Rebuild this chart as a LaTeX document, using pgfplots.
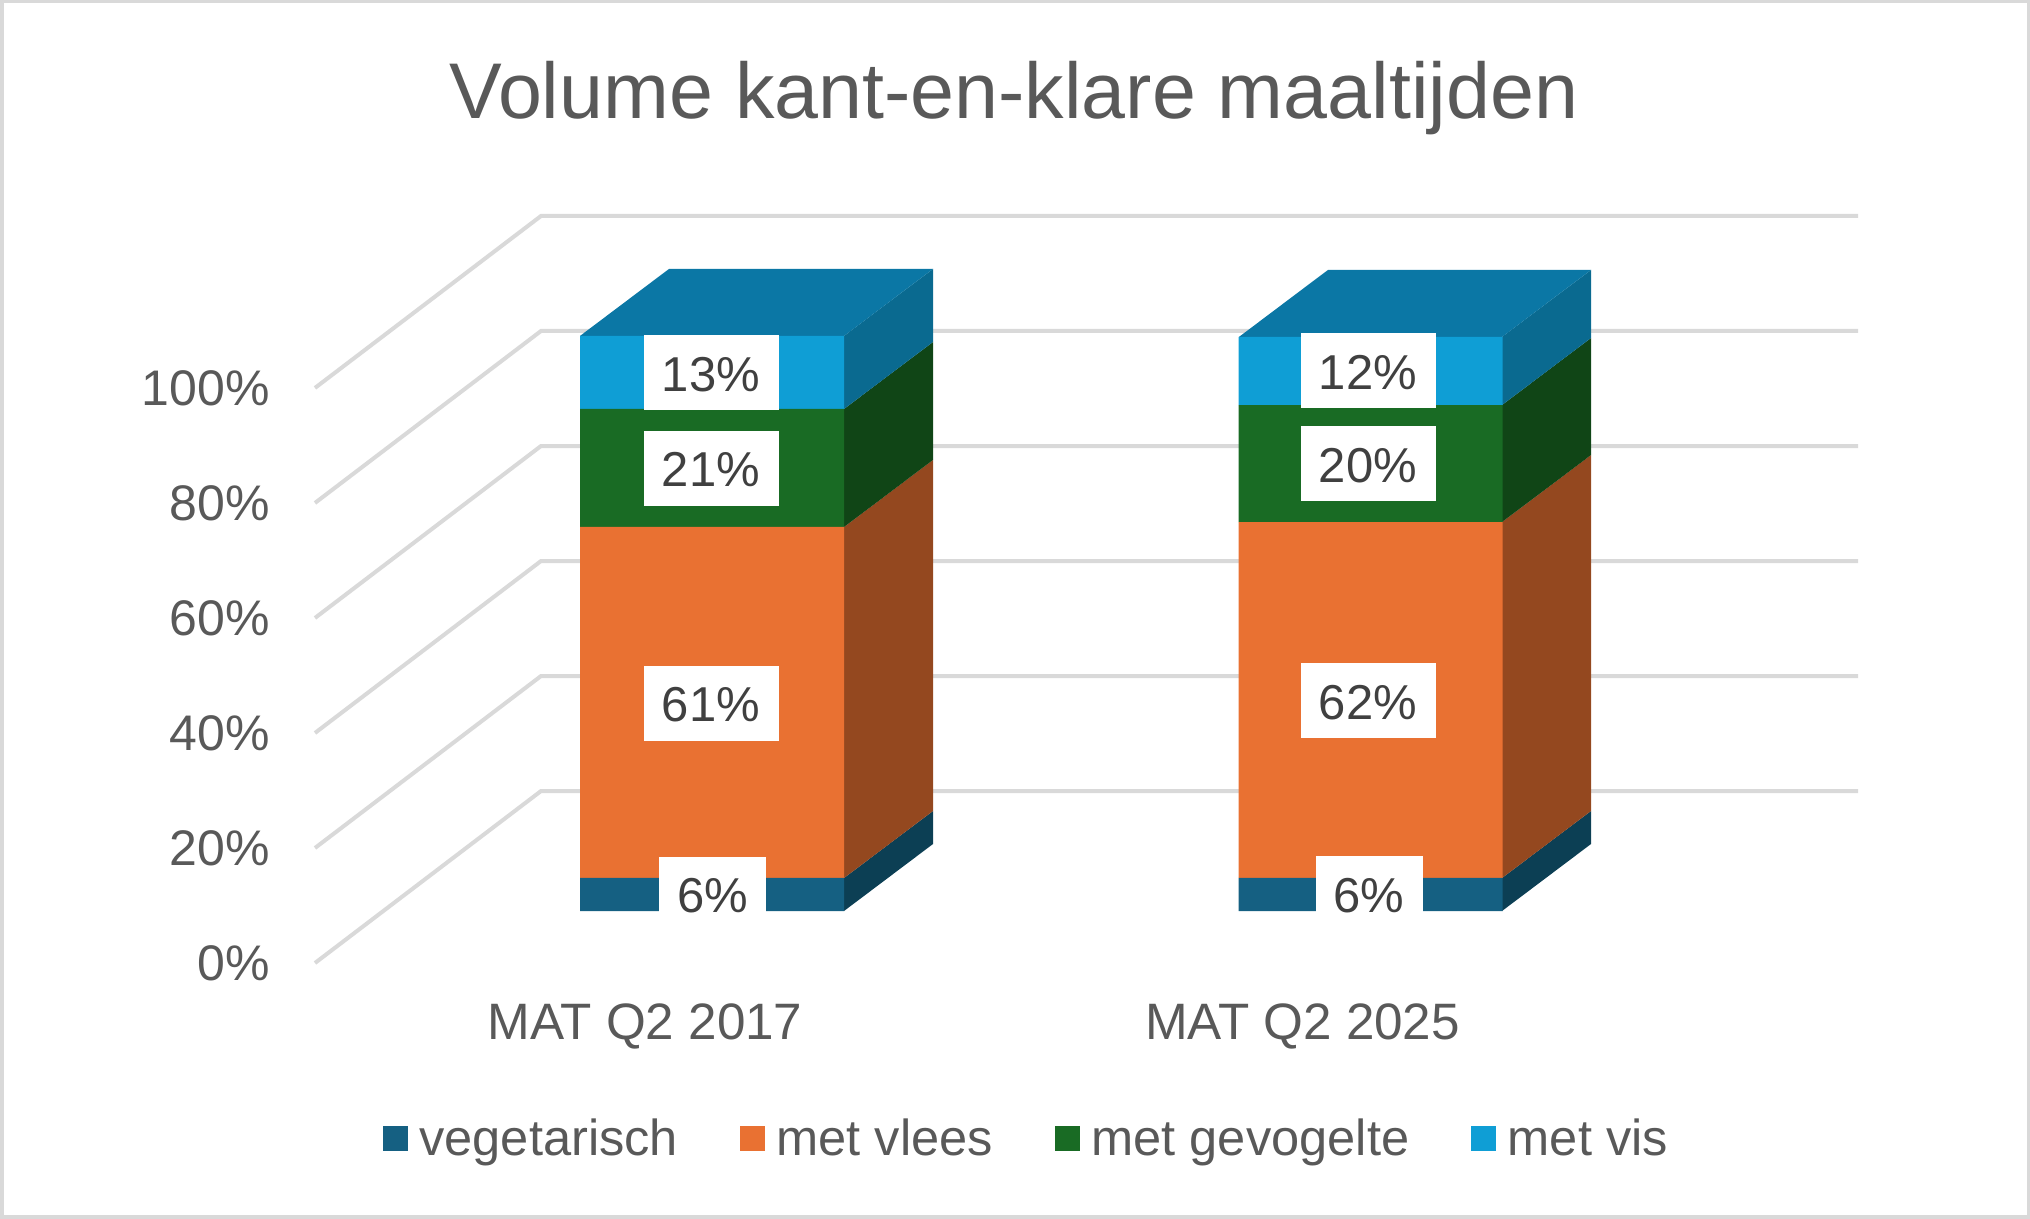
\documentclass[border=0pt]{standalone}
\usepackage{fontspec}
\setmainfont{Liberation Sans}
\usepackage{pgfplots}
\usepackage{pgfplotstable}
\pgfplotsset{compat=1.18}

\definecolor{txt}{HTML}{595959}
\definecolor{lbl}{HTML}{404040}
\definecolor{gridc}{HTML}{D9D9D9}
\definecolor{veg}{HTML}{156082}
\definecolor{vlees}{HTML}{E97132}
\definecolor{gev}{HTML}{196B24}
\definecolor{vis}{HTML}{0F9ED5}
\definecolor{vegS}{HTML}{0C3F54}
\definecolor{vleesS}{HTML}{94481F}
\definecolor{gevS}{HTML}{104516}
\definecolor{visS}{HTML}{0A6A90}
\definecolor{visT}{HTML}{0B77A5}

% x in pixels of the reference, y in percent; base lifts the front faces off the floor
\pgfplotstableread{
x      base  veg   vlees  gev    vis
712    9.04  5.74  61.04  20.52  12.70
1370.5 9.04  5.74  61.90  20.35  11.84
}\bars

\pgfplotsset{
  common/.style={
    scale only axis, width=771.5pt, height=373.5pt,
    at={(157.5pt,128pt)}, anchor=south west,
    xmin=315, xmax=1858, ymin=0, ymax=129.9,
    clip=false,
  },
  face/.style={draw=none, fill=#1, forget plot},
  wall/.style={gridc, line width=2pt, forget plot, line join=miter},
}
\tikzset{
  pct/.style={fill=white, text=lbl, inner sep=0pt, minimum height=37.5pt,
    minimum width=#1, text height=18.9pt, text depth=0.5pt,
    font=\fontsize{24.5}{24.5}\selectfont},
  pct/.default=67.5pt,
}

\begin{document}
\begin{tikzpicture}
\draw[gridc, line width=1.75pt] (0.875pt,0.875pt) rectangle (1014.125pt,608.625pt);

\begin{axis}[common,
  axis line style={draw=none},
  major tick length=0pt,
  xtick={645,1302.5},
  xticklabels={MAT Q2 2017,MAT Q2 2025},
  ytick={0,20,40,60,80,100},
  yticklabels={0\%,20\%,40\%,60\%,80\%,100\%},
  tick label style={font=\fontsize{25}{25}\selectfont, text=txt, inner sep=0pt},
  yticklabel style={xshift=-22.5pt},
  xticklabel style={yshift=-20pt, font=\fontsize{25.6}{25.6}\selectfont},
  title={Volume kant-en-klare maaltijden},
  title style={at={(0.453,1.142)}, anchor=center, text=txt, inner sep=0pt,
    font=\fontsize{39.5}{39.5}\selectfont},
]
% walls
\addplot[wall] coordinates {(315,0)(541,29.9)(1858,29.9)};
\addplot[wall] coordinates {(315,20)(541,49.9)(1858,49.9)};
\addplot[wall] coordinates {(315,40)(541,69.9)(1858,69.9)};
\addplot[wall] coordinates {(315,60)(541,89.9)(1858,89.9)};
\addplot[wall] coordinates {(315,80)(541,109.9)(1858,109.9)};
\addplot[wall] coordinates {(315,100)(541,129.9)(1858,129.9)};

% sides and top, first bar
\addplot[face=vegS] coordinates {(844,9.04)(933,20.69)(933,26.43)(844,14.78)} -- cycle;
\addplot[face=vleesS] coordinates {(844,14.78)(933,26.43)(933,87.47)(844,75.82)} -- cycle;
\addplot[face=gevS] coordinates {(844,75.82)(933,87.47)(933,107.99)(844,96.34)} -- cycle;
\addplot[face=visS] coordinates {(844,96.34)(933,107.99)(933,120.69)(844,109.04)} -- cycle;
\addplot[face=visT] coordinates {(580,109.04)(844,109.04)(933,120.69)(669,120.69)} -- cycle;

% sides and top, second bar
\addplot[face=vegS] coordinates {(1502,9.04)(1591,20.69)(1591,26.43)(1502,14.78)} -- cycle;
\addplot[face=vleesS] coordinates {(1502,14.78)(1591,26.43)(1591,88.33)(1502,76.68)} -- cycle;
\addplot[face=gevS] coordinates {(1502,76.68)(1591,88.33)(1591,108.68)(1502,97.03)} -- cycle;
\addplot[face=visS] coordinates {(1502,97.03)(1591,108.68)(1591,120.52)(1502,108.87)} -- cycle;
\addplot[face=visT] coordinates {(1239,108.87)(1502,108.87)(1591,120.52)(1328,120.52)} -- cycle;
\end{axis}

\begin{axis}[common,
  hide axis,
  ybar stacked,
  bar width=132pt,
  legend columns=4,
  legend cell align=left,
  legend style={at={(axis cs:1027.5,-30.6)}, anchor=center, draw=none, fill=none,
    font=\fontsize{25.3}{25.3}\selectfont, text=txt, inner sep=0pt,
    /tikz/every odd column/.append style={column sep=3.7pt},
    /tikz/every even column/.append style={column sep=29pt}},
  legend image code/.code={
    \fill[#1] (0pt,-6.25pt) rectangle (12.5pt,6.25pt);
  },
]
\addplot[draw=none, fill=none, forget plot] table[x=x, y=base] {\bars};
\addplot[draw=none, fill=veg] table[x=x, y=veg] {\bars};
\addplot[draw=none, fill=vlees] table[x=x, y=vlees] {\bars};
\addplot[draw=none, fill=gev] table[x=x, y=gev] {\bars};
\addplot[draw=none, fill=vis] table[x=x, y=vis] {\bars};
\legend{vegetarisch,met vlees,met gevogelte,met vis}
\end{axis}

% value labels go in their own axis, the bars of the one above would cover them
\begin{axis}[common, hide axis]
\node[pct=53.5pt] at (axis cs:712.5,11.9) {6\%};
\node[pct] at (axis cs:711,45.2) {61\%};
\node[pct] at (axis cs:711,86) {21\%};
\node[pct] at (axis cs:711,102.6) {13\%};
\node[pct=53.5pt] at (axis cs:1369,12) {6\%};
\node[pct] at (axis cs:1368,45.6) {62\%};
\node[pct] at (axis cs:1368,86.8) {20\%};
\node[pct] at (axis cs:1368,103) {12\%};
\end{axis}
\end{tikzpicture}
\end{document}
